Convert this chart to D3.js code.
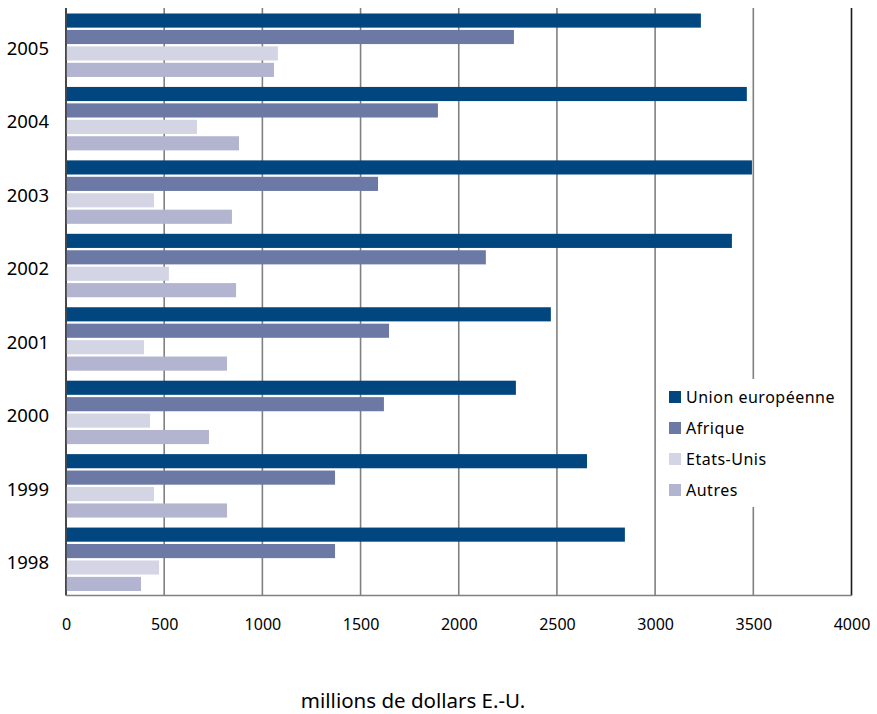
<!DOCTYPE html>
<html><head><meta charset="utf-8">
<script src="https://cdn.jsdelivr.net/npm/d3@7"></script>
<style>body{margin:0;background:#fff}svg{display:block}text{font-family:"Noto Sans",sans-serif;fill:#000}</style>
</head><body><svg id="c" width="877" height="714"></svg>
<script>
const years = ["2005","2004","2003","2002","2001","2000","1999","1998"];
const seriesNames = ["Union européenne","Afrique","Etats-Unis","Autres"];
const seriesColors = ["#02467f","#6c79a5","#d3d5e4","#b2b4d0"];
const ueValues      = [3233,3467,3493,3391,2469,2291,2653,2846];
const afriqueValues = [2281,1894,1589,2138,1645,1619,1370,1370];
const usValues      = [1079,667,448,524,397,428,448,474];
const autresValues  = [1059,881,845,866,820,728,820,382];
const xTicks = [0,500,1000,1500,2000,2500,3000,3500,4000];
const xTitle = "millions de dollars E.-U.";

const allSeries = [ueValues, afriqueValues, usValues, autresValues];
const svg = d3.select("#c");
const L=66, R=851.5, T=8, B=595.5;
const x = d3.scaleLinear().domain([0,4000]).range([L,R]);
const y = d3.scaleBand().domain(years).range([T,B]).padding(0);
const bw = y.bandwidth();
const inner = d3.scaleBand().domain(d3.range(4)).range([5.5, bw-4.5]).paddingInner(0.14).paddingOuter(0);

// grid
svg.append("g").selectAll("line").data(xTicks).join("line")
  .attr("x1",d=>x(d)).attr("x2",d=>x(d)).attr("y1",T).attr("y2",B)
  .attr("stroke",d=>(d===0||d===4000)?"#1a1a1a":"#808080").attr("stroke-width",1.6);

// bars
const g = svg.append("g");
years.forEach((yr,i)=>{
  allSeries.forEach((arr,s)=>{
    g.append("rect").attr("x",x(0)+0.8).attr("y",y(yr)+inner(s))
      .attr("width",x(arr[i])-x(0)-0.8).attr("height",inner.bandwidth())
      .attr("fill",seriesColors[s]);
  });
});

// bottom axis line
svg.append("line").attr("x1",L).attr("x2",R).attr("y1",B).attr("y2",B).attr("stroke","#808080").attr("stroke-width",1.6);

// axes
const xAxis = svg.append("g").attr("transform",`translate(0,${B})`).call(d3.axisBottom(x).tickValues(xTicks).tickSize(0).tickPadding(23).tickFormat(d3.format("d")));
xAxis.select(".domain").remove();
xAxis.selectAll("text").attr("font-size",16).attr("font-family","Noto Sans");
const yAxis = svg.append("g").attr("transform",`translate(${L},0)`).call(d3.axisLeft(y).tickSize(0).tickPadding(17));
yAxis.select(".domain").remove();
yAxis.selectAll("text").attr("font-size",18.5).attr("font-family","Noto Sans").attr("dy","0.55em");

// legend
const lg = svg.append("g");
lg.append("rect").attr("x",660).attr("y",379).attr("width",186).attr("height",128).attr("fill","#fff");
seriesNames.forEach((n,i)=>{
  lg.append("rect").attr("x",669).attr("y",391+i*31).attr("width",12).attr("height",12).attr("fill",seriesColors[i]);
  lg.append("text").attr("x",686).attr("y",397+i*31).attr("dy","0.35em").attr("font-size",16).attr("letter-spacing","0.5px").text(n);
});

svg.append("text").attr("x",413).attr("y",701).attr("text-anchor","middle").attr("dy","0.35em").attr("font-size",20.5).text(xTitle);
</script></body></html>
